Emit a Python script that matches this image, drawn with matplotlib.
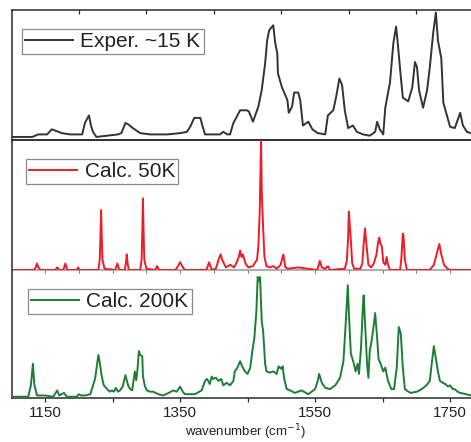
#!/usr/bin/env python3
"""
Stacked IR spectra: experiment (~15 K) vs. calculations at 50 K and 200 K
"""

import matplotlib
matplotlib.use("Agg")
import matplotlib.pyplot as plt
from matplotlib.ticker import FixedLocator, NullFormatter

plt.rcParams['font.family'] = ['Liberation Sans', 'DejaVu Sans']

# Experimental spectrum (~15 K), normalized intensity
exp_wn = [1101, 1131, 1140, 1153, 1160, 1175, 1187, 1205, 1209, 1215, 1218, 1221,
          1226, 1242, 1258, 1263, 1269, 1273, 1280, 1291, 1306, 1331, 1350, 1360,
          1365, 1371, 1380, 1383, 1387, 1409, 1414, 1420, 1424, 1429, 1439, 1449,
          1452, 1458, 1466, 1471, 1476, 1479, 1482, 1488, 1491, 1494, 1495, 1501,
          1509, 1511, 1516, 1519, 1525, 1528, 1532, 1540, 1546, 1554, 1565, 1569,
          1577, 1581, 1586, 1590, 1594, 1599, 1606, 1612, 1621, 1631, 1639, 1642,
          1646, 1651, 1654, 1661, 1666, 1670, 1673, 1676, 1680, 1688, 1694, 1698,
          1701, 1704, 1710, 1716, 1720, 1725, 1729, 1732, 1737, 1740, 1750, 1757,
          1765, 1769, 1775, 1781]
exp_int = [0.00, 0.00, 0.02, 0.02, 0.06, 0.03, 0.02, 0.02, 0.11, 0.17, 0.09, 0.04,
           0.00, 0.01, 0.02, 0.03, 0.11, 0.10, 0.07, 0.03, 0.02, 0.02, 0.03, 0.04,
           0.08, 0.15, 0.15, 0.09, 0.02, 0.02, 0.04, 0.02, 0.02, 0.11, 0.21, 0.21,
           0.20, 0.12, 0.24, 0.37, 0.58, 0.76, 0.84, 0.88, 0.74, 0.66, 0.50, 0.39,
           0.29, 0.19, 0.24, 0.35, 0.35, 0.29, 0.09, 0.12, 0.06, 0.03, 0.02, 0.17,
           0.21, 0.31, 0.46, 0.41, 0.21, 0.07, 0.09, 0.04, 0.02, 0.01, 0.04, 0.12,
           0.06, 0.02, 0.23, 0.43, 0.74, 0.87, 0.71, 0.53, 0.31, 0.28, 0.39, 0.59,
           0.55, 0.37, 0.23, 0.37, 0.55, 0.82, 0.98, 0.76, 0.62, 0.27, 0.08, 0.07,
           0.19, 0.09, 0.04, 0.03]

# Calculated spectrum at 50 K
c50_wn = [1101, 1134, 1136, 1138, 1140, 1143, 1165, 1168, 1171, 1177, 1180, 1183,
          1197, 1199, 1201, 1229, 1231, 1232, 1233, 1234, 1235, 1238, 1254, 1257,
          1260, 1268, 1270, 1271, 1272, 1274, 1291, 1293, 1294, 1295, 1296, 1297,
          1300, 1313, 1316, 1319, 1343, 1347, 1350, 1353, 1357, 1389, 1393, 1397,
          1403, 1407, 1410, 1413, 1418, 1424, 1430, 1434, 1437, 1439, 1441, 1443,
          1447, 1451, 1458, 1464, 1466, 1468, 1470, 1471, 1473, 1475, 1478, 1483,
          1488, 1493, 1499, 1503, 1506, 1510, 1525, 1553, 1555, 1557, 1560, 1565,
          1569, 1572, 1594, 1597, 1599, 1600, 1602, 1603, 1605, 1608, 1617, 1620,
          1622, 1624, 1626, 1627, 1629, 1633, 1637, 1641, 1643, 1645, 1647, 1649,
          1651, 1654, 1656, 1658, 1661, 1676, 1678, 1680, 1681, 1683, 1686, 1720,
          1726, 1730, 1734, 1737, 1741, 1746, 1750, 1785]
c50_int = [0.00, 0.00, 0.02, 0.05, 0.02, 0.00, 0.00, 0.02, 0.00, 0.00, 0.05, 0.00,
           0.00, 0.02, 0.00, 0.00, 0.08, 0.25, 0.46, 0.25, 0.08, 0.01, 0.00, 0.05,
           0.00, 0.00, 0.06, 0.12, 0.06, 0.00, 0.00, 0.08, 0.28, 0.55, 0.28, 0.08,
           0.01, 0.00, 0.03, 0.00, 0.00, 0.03, 0.06, 0.03, 0.00, 0.00, 0.06, 0.00,
           0.01, 0.08, 0.12, 0.07, 0.02, 0.04, 0.02, 0.06, 0.10, 0.15, 0.10, 0.12,
           0.05, 0.02, 0.03, 0.08, 0.18, 0.45, 1.00, 0.60, 0.33, 0.10, 0.03, 0.02,
           0.03, 0.01, 0.04, 0.12, 0.02, 0.01, 0.02, 0.00, 0.03, 0.07, 0.02, 0.01,
           0.03, 0.00, 0.01, 0.07, 0.25, 0.45, 0.30, 0.23, 0.05, 0.01, 0.01, 0.05,
           0.20, 0.32, 0.20, 0.15, 0.04, 0.02, 0.05, 0.12, 0.20, 0.25, 0.20, 0.18,
           0.06, 0.04, 0.10, 0.04, 0.00, 0.00, 0.10, 0.28, 0.26, 0.08, 0.00, 0.00,
           0.04, 0.12, 0.20, 0.12, 0.04, 0.01, 0.00, 0.00]

# Calculated spectrum at 200 K
c200_wn = [1101, 1125, 1129, 1132, 1134, 1138, 1150, 1162, 1168, 1171, 1178, 1182,
           1197, 1200, 1203, 1210, 1217, 1224, 1229, 1231, 1234, 1237, 1242, 1246,
           1249, 1252, 1255, 1258, 1261, 1265, 1269, 1273, 1276, 1279, 1283, 1285,
           1287, 1289, 1291, 1294, 1295, 1298, 1301, 1305, 1310, 1318, 1325, 1333,
           1340, 1345, 1350, 1354, 1357, 1365, 1372, 1382, 1387, 1390, 1394, 1397,
           1399, 1403, 1407, 1411, 1414, 1419, 1424, 1429, 1431, 1435, 1439, 1442,
           1446, 1450, 1454, 1457, 1460, 1463, 1465, 1467, 1468.5, 1471, 1473, 1476,
           1478, 1483, 1488, 1493, 1496, 1500, 1502, 1504, 1508, 1513, 1520, 1530,
           1540, 1550, 1554, 1556, 1560, 1565, 1572, 1580, 1587, 1592, 1595.5, 1598.5,
           1600, 1603, 1607, 1610, 1613, 1615, 1618, 1621, 1622, 1624, 1627, 1629,
           1631, 1634, 1637, 1639, 1642, 1644, 1647, 1651, 1654, 1658, 1663, 1667,
           1671, 1674, 1677, 1680, 1683, 1691, 1701, 1708, 1715, 1720, 1723, 1726,
           1729, 1732, 1735, 1739, 1743, 1747, 1750, 1754, 1757, 1761, 1765, 1774,
           1781]
c200_int = [0.00, 0.00, 0.09, 0.26, 0.10, 0.01, 0.01, 0.00, 0.05, 0.01, 0.03, 0.00,
            0.00, 0.02, 0.01, 0.01, 0.02, 0.14, 0.33, 0.27, 0.16, 0.09, 0.06, 0.04,
            0.05, 0.04, 0.07, 0.04, 0.05, 0.08, 0.17, 0.09, 0.06, 0.05, 0.20, 0.13,
            0.22, 0.36, 0.33, 0.32, 0.16, 0.08, 0.05, 0.04, 0.04, 0.02, 0.01, 0.03,
            0.05, 0.04, 0.08, 0.04, 0.02, 0.02, 0.02, 0.05, 0.125, 0.14, 0.10, 0.16,
            0.14, 0.15, 0.125, 0.14, 0.09, 0.11, 0.09, 0.125, 0.20, 0.23, 0.28, 0.24,
            0.20, 0.18, 0.23, 0.36, 0.46, 0.67, 0.945, 0.91, 0.945, 0.59, 0.52, 0.26,
            0.20, 0.19, 0.20, 0.18, 0.24, 0.22, 0.24, 0.15, 0.06, 0.05, 0.03, 0.05,
            0.02, 0.06, 0.125, 0.18, 0.11, 0.07, 0.06, 0.09, 0.15, 0.28, 0.59, 0.88,
            0.67, 0.34, 0.27, 0.20, 0.26, 0.18, 0.38, 0.73, 0.80, 0.59, 0.26, 0.15,
            0.36, 0.45, 0.57, 0.66, 0.46, 0.30, 0.26, 0.20, 0.23, 0.125, 0.06, 0.06,
            0.23, 0.55, 0.50, 0.23, 0.06, 0.03, 0.04, 0.06, 0.09, 0.125, 0.27, 0.40,
            0.30, 0.20, 0.125, 0.11, 0.10, 0.08, 0.09, 0.06, 0.06, 0.04, 0.03, 0.02,
            0.01]

labels = ['Exper. ~15 K', 'Calc. 50K', 'Calc. 200K']
colors = ['#333333', '#ee1c24', '#1e7d34']
xlim = (1101, 1785)
ylims = [(-0.024, 1.0), (0.0, 1.0), (-0.01, 1.0)]
xtick_labels = [1150, 1350, 1550, 1750]

W, H = 471, 442
fig = plt.figure(figsize=(W / 100, H / 100), dpi=100)

left = 12 / W
width = 461.7 / W
# panel edges in pixels from the top
edges = [(10, 140), (140, 270), (270, 398)]
legend_anchor = [(0.022, 0.855), (0.031, 0.855), (0.035, 0.853)]

axes = []
for (top, bot) in edges:
    ax = fig.add_axes([left, (H - bot) / H, width, (bot - top) / H])
    axes.append(ax)

series = [(exp_wn, exp_int), (c50_wn, c50_int), (c200_wn, c200_int)]
spine_col = '#2a2a2a'

for i, ax in enumerate(axes):
    wn, inten = series[i]
    ax.plot(wn, inten, color=colors[i], lw=1.4, label=labels[i], zorder=3)
    ax.set_xlim(*xlim)
    ax.set_ylim(*ylims[i])
    ax.set_yticks([])
    ax.spines['right'].set_visible(False)
    for s in ax.spines.values():
        s.set_color(spine_col)
        s.set_linewidth(1.1)
    leg = ax.legend(loc='upper left', bbox_to_anchor=legend_anchor[i],
                    fontsize=15, handlelength=2.3, handletextpad=0.35,
                    borderpad=0.15, borderaxespad=0, fancybox=False,
                    framealpha=1, edgecolor='#8a8a8a')
    leg.get_frame().set_linewidth(0.9)
    for t in leg.get_texts():
        t.set_color('#222222')
    ax.set_facecolor('none')

# top panel
axes[0].xaxis.set_major_locator(FixedLocator(list(range(1200, 1800, 100))))
axes[0].xaxis.set_major_formatter(NullFormatter())
axes[0].tick_params(axis='x', direction='in', top=True, bottom=False,
                    length=3, width=0.9, color=spine_col)

# middle panel
axes[1].xaxis.set_major_locator(FixedLocator(list(range(1150, 1800, 50))))
axes[1].xaxis.set_major_formatter(NullFormatter())
axes[1].tick_params(axis='x', direction='out', top=False, bottom=True,
                    length=2.5, width=0.8, color='#777777')
axes[1].spines['bottom'].set_color('#999999')

# bottom panel
axes[2].xaxis.set_major_locator(FixedLocator(xtick_labels))
axes[2].xaxis.set_minor_locator(FixedLocator([1250, 1450, 1650]))
axes[2].tick_params(axis='x', which='both', direction='out', length=3,
                    width=0.9, color=spine_col, labelsize=11,
                    labelcolor='#222222', pad=3)
axes[2].spines['top'].set_visible(False)

fig.text(246 / W, 1 - 432 / H, 'wavenumber (cm$^{-1}$)', ha='center',
         va='center', fontsize=9.5, color='#222222')

fig.savefig('out.png', dpi=100, facecolor='white')
